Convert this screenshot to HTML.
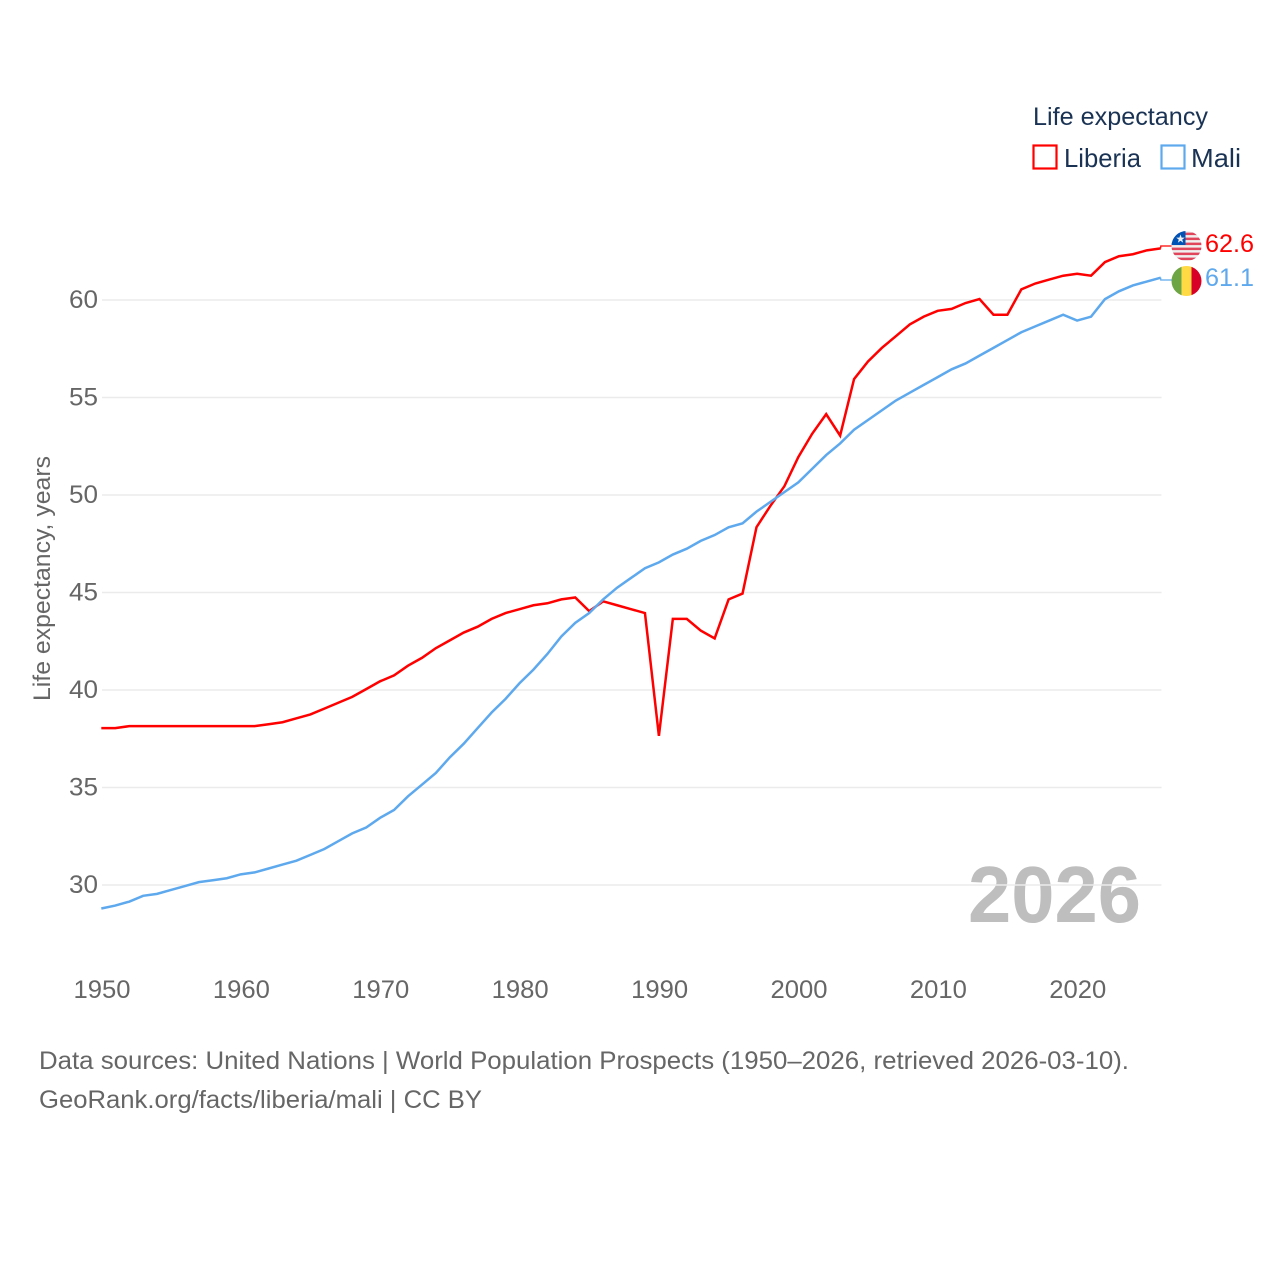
<!DOCTYPE html>
<html lang="en">
<head>
<meta charset="utf-8">
<title>Life expectancy: Liberia and Mali</title>
<style>
html,body{margin:0;padding:0;background:#fff;}
svg{display:block;}
text{font-family:"Liberation Sans",sans-serif;}
</style>
</head>
<body>
<svg id="chart" xmlns="http://www.w3.org/2000/svg" width="1280" height="1280" viewBox="0 0 1280 1280">
  <rect x="0" y="0" width="1280" height="1280" fill="#ffffff"/>
  <text x="968" y="922" font-size="80" font-weight="700" fill="#bebebe" textLength="173" lengthAdjust="spacingAndGlyphs">2026</text>
  <g id="grid"></g>
  <g id="yticks"></g>
  <g id="xticks"></g>
  <text transform="translate(50,701) rotate(-90)" font-size="24" fill="#666666" textLength="245" lengthAdjust="spacingAndGlyphs">Life expectancy, years</text>
  <g id="series"></g>

  <g>
    <text x="1033" y="125" font-size="25" fill="#1a3354" textLength="175" lengthAdjust="spacingAndGlyphs">Life expectancy</text>
    <rect x="1033.5" y="145.5" width="23" height="23" fill="none" stroke="#ff0000" stroke-width="2.2"/>
    <text x="1064" y="167" font-size="26" fill="#1a3354" textLength="77" lengthAdjust="spacingAndGlyphs">Liberia</text>
    <rect x="1161.5" y="145.5" width="23" height="23" fill="none" stroke="#5ea9ee" stroke-width="2.2"/>
    <text x="1191" y="167" font-size="26" fill="#1a3354" textLength="50" lengthAdjust="spacingAndGlyphs">Mali</text>
  </g>

  <defs>
    <clipPath id="clip-lr"><circle cx="1186.5" cy="246" r="15"/></clipPath>
    <clipPath id="clip-ml"><circle cx="1186.5" cy="281" r="15"/></clipPath>
  </defs>
  <g clip-path="url(#clip-lr)">
    <rect x="1171" y="231" width="31" height="31" fill="#f0f0f0"/>
    <rect x="1171" y="232.6" width="31" height="2.5" fill="#e0455c"/>
    <rect x="1171" y="237.6" width="31" height="2.5" fill="#e0455c"/>
    <rect x="1171" y="242.6" width="31" height="2.5" fill="#e0455c"/>
    <rect x="1171" y="247.6" width="31" height="2.5" fill="#e0455c"/>
    <rect x="1171" y="252.6" width="31" height="2.5" fill="#e0455c"/>
    <rect x="1171" y="257.6" width="31" height="2.5" fill="#e0455c"/>
    <rect x="1171" y="231" width="14.5" height="14" fill="#0052b4"/>
    <polygon points="1180.5,234.5 1181.6,237.6 1184.8,237.6 1182.2,239.6 1183.2,242.8 1180.5,240.8 1177.8,242.8 1178.8,239.6 1176.2,237.6 1179.4,237.6" fill="#f0f0f0"/>
  </g>
  <g clip-path="url(#clip-ml)">
    <rect x="1171" y="266" width="11" height="31" fill="#6da544"/>
    <rect x="1181.5" y="266" width="10.5" height="31" fill="#ffda44"/>
    <rect x="1191.5" y="266" width="11" height="31" fill="#d80027"/>
  </g>
  <text x="1205" y="252" font-size="25" fill="#ff0000" textLength="49" lengthAdjust="spacingAndGlyphs">62.6</text>
  <text x="1205" y="286" font-size="25" fill="#5ea9ee" textLength="49" lengthAdjust="spacingAndGlyphs">61.1</text>

  <text x="39" y="1069" font-size="25" fill="#666666" textLength="1090" lengthAdjust="spacingAndGlyphs">Data sources: United Nations | World Population Prospects (1950–2026, retrieved 2026-03-10).</text>
  <a><text x="39" y="1108" font-size="25" fill="#666666" textLength="443" lengthAdjust="spacingAndGlyphs">GeoRank.org/facts/liberia/mali | CC BY</text></a>
</svg>
<script>
const startYear = 1950;
const yTickValues = [30, 35, 40, 45, 50, 55, 60];
const xTickValues = [1950, 1960, 1970, 1980, 1990, 2000, 2010, 2020];
const liberiaValues = [38, 38, 38.1, 38.1, 38.1, 38.1, 38.1, 38.1, 38.1, 38.1,
  38.1, 38.1, 38.2, 38.3, 38.5, 38.7, 39, 39.3, 39.6, 40,
  40.4, 40.7, 41.2, 41.6, 42.1, 42.5, 42.9, 43.2, 43.6, 43.9,
  44.1, 44.3, 44.4, 44.6, 44.7, 44, 44.5, 44.3, 44.1, 43.9,
  37.6, 43.6, 43.6, 43, 42.6, 44.6, 44.9, 48.3, 49.4, 50.4,
  51.9, 53.1, 54.1, 53, 55.9, 56.8, 57.5, 58.1, 58.7, 59.1,
  59.4, 59.5, 59.8, 60, 59.2, 59.2, 60.5, 60.8, 61, 61.2,
  61.3, 61.2, 61.9, 62.2, 62.3, 62.5, 62.6];
const maliValues = [28.75, 28.9, 29.1, 29.4, 29.5, 29.7, 29.9, 30.1, 30.2, 30.3,
  30.5, 30.6, 30.8, 31, 31.2, 31.5, 31.8, 32.2, 32.6, 32.9,
  33.4, 33.8, 34.5, 35.1, 35.7, 36.5, 37.2, 38, 38.8, 39.5,
  40.3, 41, 41.8, 42.7, 43.4, 43.9, 44.6, 45.2, 45.7, 46.2,
  46.5, 46.9, 47.2, 47.6, 47.9, 48.3, 48.5, 49.1, 49.6, 50.1,
  50.6, 51.3, 52, 52.6, 53.3, 53.8, 54.3, 54.8, 55.2, 55.6,
  56, 56.4, 56.7, 57.1, 57.5, 57.9, 58.3, 58.6, 58.9, 59.2,
  58.9, 59.1, 60, 60.4, 60.7, 60.9, 61.1];

const NS = 'http://www.w3.org/2000/svg';
function xScale(year) { return 102 + (year - 1950) * 13.94; }
function yScale(value) { return 885 - (value - 30) * 19.5; }
function lineX(year) { return xScale(year) - 0.7; }
function lineY(value) { return yScale(value) - 0.9; }
function make(tag) { return document.createElementNS(NS, tag); }

const gridGroup = document.getElementById('grid');
const yGroup = document.getElementById('yticks');
const xGroup = document.getElementById('xticks');
const seriesGroup = document.getElementById('series');
const lastX = lineX(startYear + liberiaValues.length - 1);

yTickValues.forEach(function (v) {
  const line = make('line');
  
  
  line.setAttribute('x1', 102);
  line.setAttribute('x2', 1161.5);
  line.setAttribute('y1', yScale(v));
  line.setAttribute('y2', yScale(v));
  line.setAttribute('stroke', '#ebebeb');
  line.setAttribute('stroke-width', '1.5');
  gridGroup.appendChild(line);

  const label = make('text');
  
  
  label.setAttribute('x', 69);
  label.setAttribute('y', yScale(v) + 8);
  label.setAttribute('font-size', '25');
  label.setAttribute('fill', '#666666');
  label.setAttribute('textLength', '29');
  label.setAttribute('lengthAdjust', 'spacingAndGlyphs');
  label.textContent = v;
  yGroup.appendChild(label);
});

xTickValues.forEach(function (year) {
  const label = make('text');
  
  
  label.setAttribute('x', xScale(year) - 28.5);
  label.setAttribute('y', 998);
  label.setAttribute('font-size', '25');
  label.setAttribute('fill', '#666666');
  label.setAttribute('textLength', '57');
  label.setAttribute('lengthAdjust', 'spacingAndGlyphs');
  label.textContent = year;
  xGroup.appendChild(label);
});

function linePoints(values) {
  return values.map(function (v, i) {
    return lineX(startYear + i).toFixed(2) + ',' + lineY(v).toFixed(2);
  }).join(' ');
}

const liberiaLine = make('polyline');


liberiaLine.setAttribute('points', linePoints(liberiaValues));
liberiaLine.setAttribute('fill', 'none');
liberiaLine.setAttribute('stroke', '#ff0000');
liberiaLine.setAttribute('stroke-width', '2.5');
liberiaLine.setAttribute('stroke-linejoin', 'miter');
seriesGroup.appendChild(liberiaLine);

const maliLine = make('polyline');


maliLine.setAttribute('points', linePoints(maliValues));
maliLine.setAttribute('fill', 'none');
maliLine.setAttribute('stroke', '#5ea9ee');
maliLine.setAttribute('stroke-width', '2.5');
maliLine.setAttribute('stroke-linejoin', 'miter');
seriesGroup.appendChild(maliLine);

const liberiaConnector = make('polyline');


liberiaConnector.setAttribute('points', lastX + ',' + lineY(liberiaValues[liberiaValues.length - 1]) + ' ' + lastX + ',246 1172,246');
liberiaConnector.setAttribute('fill', 'none');
liberiaConnector.setAttribute('stroke', '#ff0000');
liberiaConnector.setAttribute('stroke-width', '1.2');
seriesGroup.appendChild(liberiaConnector);

const maliConnector = make('polyline');


maliConnector.setAttribute('points', lastX + ',' + lineY(maliValues[maliValues.length - 1]) + ' ' + lastX + ',280 1172,280');
maliConnector.setAttribute('fill', 'none');
maliConnector.setAttribute('stroke', '#5ea9ee');
maliConnector.setAttribute('stroke-width', '1.2');
seriesGroup.appendChild(maliConnector);
</script>
</body>
</html>
